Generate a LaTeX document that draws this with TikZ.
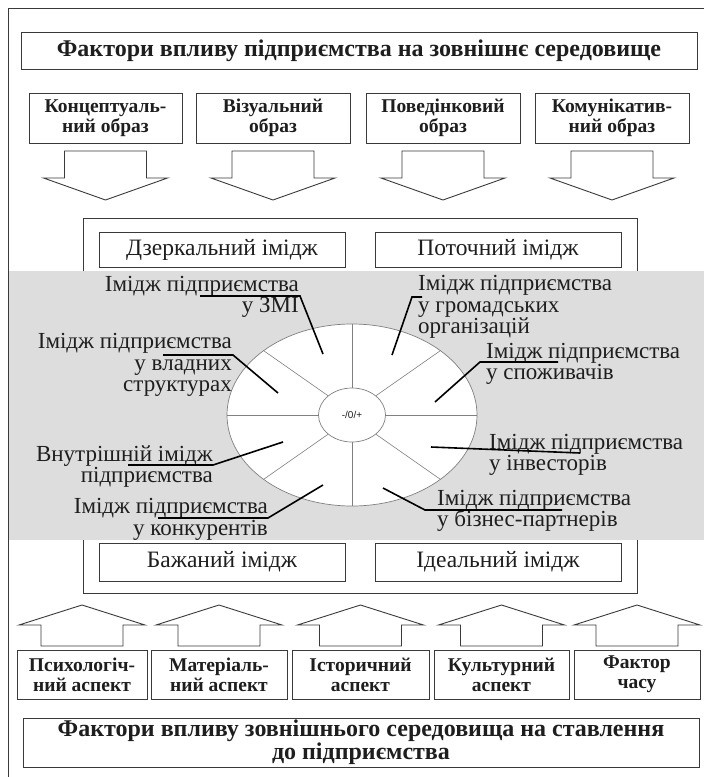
\documentclass[tikz,border=0pt]{standalone}
\usepackage{fontspec}
\setmainfont{Liberation Serif}
\newfontfamily\sansf{Liberation Sans}
\definecolor{lineC}{HTML}{3A3A3A}
\definecolor{bandC}{HTML}{DDDDDD}
\definecolor{txtC}{HTML}{1E1E1E}
\definecolor{spokeC}{HTML}{808080}
\begin{document}
\begin{tikzpicture}[x=1pt,y=-1pt,
  boxb/.style={draw=lineC, line width=1pt, fill=white, inner sep=0pt, align=center, text=txtC},
  boxr/.style={draw=lineC, line width=0.9pt, fill=white, inner sep=0pt, align=center, text=txtC,
     font=\fontsize{23.5}{25}\selectfont},
  bigf/.style={font=\fontsize{24}{23}\selectfont\bfseries},
  smallf/.style={font=\fontsize{19.5}{20}\selectfont\bfseries},
  blockarrow/.style={draw=lineC, line width=0.9pt, fill=white, line join=miter},
  spoke/.style={draw=spokeC, line width=0.6pt},
  leader/.style={draw=black, line width=1.6pt},
  lbl/.style={inner sep=0pt, text=txtC, font=\fontsize{23}{21}\selectfont}
]
\clip (0,0) rectangle (704,777);
\fill[white] (0,0) rectangle (704,777);
% outer frame (only left and top visible)
\draw[lineC, line width=1pt] (8,800) -- (8,8) -- (720,8);

% header
\node[boxb, bigf, minimum width=676pt, minimum height=37pt] (hdr) at (359,50.5)
  {Фактори впливу підприємства на зовнішнє середовище};

% top boxes
\node[boxb, smallf, minimum width=153pt, minimum height=50pt] (t1) at (105.5,118) {Концептуаль-\\ний образ};
\node[boxb, smallf, minimum width=154pt, minimum height=50pt] (t2) at (273,118) {Візуальний\\образ};
\node[boxb, smallf, minimum width=154pt, minimum height=50pt] (t3) at (443,118) {Поведінковий\\образ};
\node[boxb, smallf, minimum width=154pt, minimum height=50pt] (t4) at (612,118) {Комунікатив-\\ний образ};

% down block arrows
\foreach \c in {105.5,273,443,612}{
  \draw[blockarrow] (\c-41,151) -- (\c+41,151) -- (\c+41,178) -- (\c+62,178) -- (\c,200)
     -- (\c-62,178) -- (\c-41,178) -- cycle;
}

% big inner frame
\draw[lineC, line width=0.9pt] (83,218) rectangle (637,593);
\node[boxr, minimum width=246pt, minimum height=35pt] (mir) at (222,249.5) {Дзеркальний імідж};
\node[boxr, minimum width=246pt, minimum height=35pt] (cur) at (498,249.5) {Поточний імідж};
\node[boxr, minimum width=246pt, minimum height=38pt] (des) at (222,562) {Бажаний імідж};
\node[boxr, minimum width=246pt, minimum height=38pt] (ide) at (498,562) {Ідеальний імідж};

% grey band
\fill[bandC] (8,271) rectangle (704,540);
\draw[lineC, line width=1pt] (8,260) -- (8,560);

% wheel
\draw[spokeC, line width=0.7pt, fill=white] (352,415) ellipse [x radius=125, y radius=91];
\foreach \t in {0,45,...,315}{
  \draw[spoke] ({352+33.5*cos(\t)},{415+27*sin(\t)}) -- ({352+125*cos(\t)},{415+91*sin(\t)});
}
\draw[spokeC, line width=0.7pt, fill=white] (352,415) ellipse [x radius=33.5, y radius=27];
\node[inner sep=0pt, text=txtC, font=\sansf\fontsize{10}{12}\selectfont] (ctr) at (352,415) {-/0/+};

% labels
\node[lbl, anchor=base east] (a1) at (299,291) {Імідж підприємства};
\node[lbl, anchor=base east] (a2) at (299,312) {у ЗМІ};
\node[lbl, anchor=base east] (b1) at (232,348.5) {Імідж підприємства};
\node[lbl, anchor=base east] (b2) at (232,370) {у владних};
\node[lbl, anchor=base east] (b3) at (232,391.5) {структурах};
\node[lbl, anchor=base east] (c1) at (213,461) {Внутрішній імідж};
\node[lbl, anchor=base east] (c2) at (213,482) {підприємства};
\node[lbl, anchor=base east] (d1) at (268,513.5) {Імідж підприємства};
\node[lbl, anchor=base east] (d2) at (268,535.5) {у конкурентів};
\node[lbl, anchor=base west] (e1) at (418,290) {Імідж підприємства};
\node[lbl, anchor=base west] (e2) at (418,312) {у громадських};
\node[lbl, anchor=base west] (e3) at (418,333) {організацій};
\node[lbl, anchor=base west] (f1) at (486,358) {Імідж підприємства};
\node[lbl, anchor=base west] (f2) at (486,379) {у споживачів};
\node[lbl, anchor=base west] (g1) at (489,449) {Імідж підприємства};
\node[lbl, anchor=base west] (g2) at (489,470) {у інвесторів};
\node[lbl, anchor=base west] (h1) at (437,505) {Імідж підприємства};
\node[lbl, anchor=base west] (h2) at (437,526) {у бізнес-партнерів};

% leader lines
\coordinate (pa) at (323,354);
\coordinate (pb) at (278,393);
\coordinate (pc) at (283,442);
\coordinate (pd) at (323,485);
\coordinate (pe) at (392,355);
\coordinate (pf) at (435,402);
\coordinate (pg) at (431,447);
\coordinate (ph) at (383,488);
\draw[leader] (200,296) -- (300,296) -- (pa);
\draw[leader] (163,355) -- (233,355) -- (pb);
\draw[leader] (128,465) -- (213,465) -- (pc);
\draw[leader] (158,518) -- (268,518) -- (pd);
\draw[leader] (422,297) -- (412,297) -- (pe);
\draw[leader] (558,362) -- (480,362) -- (pf);
\draw[leader] (580,453) -- (pg);
\draw[leader] (562,510) -- (425,510) -- (ph);

% up block arrows
\foreach \c in {82,219,360.5,501.5,637}{
  \draw[blockarrow] (\c-41,646) -- (\c+41,646) -- (\c+41,625) -- (\c+63,625) -- (\c,605)
     -- (\c-63,625) -- (\c-41,625) -- cycle;
}

% bottom boxes
\node[boxb, smallf, minimum width=130pt, minimum height=49pt] (u1) at (82,674.5) {Психологіч-\\ний аспект};
\node[boxb, smallf, minimum width=136pt, minimum height=49pt] (u2) at (219,674.5) {Матеріаль-\\ний аспект};
\node[boxb, smallf, minimum width=137pt, minimum height=49pt] (u3) at (360.5,674.5) {Історичний\\аспект};
\node[boxb, smallf, minimum width=135pt, minimum height=49pt] (u4) at (501.5,674.5) {Культурний\\аспект};
\node[boxb, smallf, minimum width=126pt, minimum height=49pt] (u5) at (637,674.5) {Фактор\\часу};

% footer
\node[boxb, bigf, minimum width=676pt, minimum height=49pt] (ftr) at (361,742.5)
  {Фактори впливу зовнішнього середовища на ставлення\\до підприємства};
\end{tikzpicture}
\end{document}
